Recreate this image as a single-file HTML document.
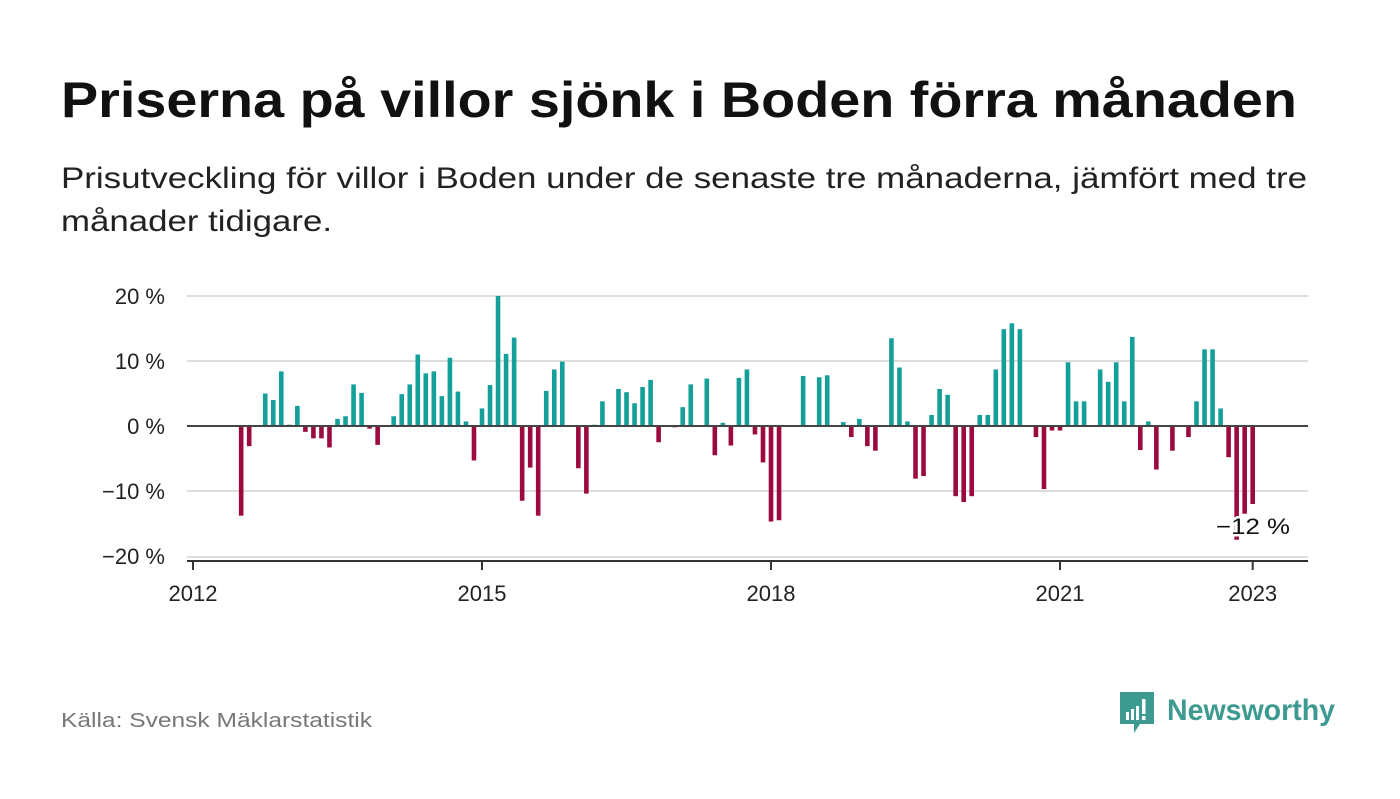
<!DOCTYPE html>
<html><head><meta charset="utf-8"><style>
body{margin:0;background:#fff;width:1400px;height:794px;overflow:hidden;font-family:"Liberation Sans","DejaVu Sans",sans-serif}
</style></head><body>
<svg width="1400" height="794" viewBox="0 0 1400 794">
<text x="61" y="117" font-size="50" font-weight="bold" fill="#111" textLength="1236" lengthAdjust="spacingAndGlyphs">Priserna på villor sjönk i Boden förra månaden</text>
<text x="61" y="188" font-size="30" fill="#222" textLength="1246" lengthAdjust="spacingAndGlyphs">Prisutveckling för villor i Boden under de senaste tre månaderna, jämfört med tre</text>
<text x="61" y="231" font-size="30" fill="#222" textLength="271" lengthAdjust="spacingAndGlyphs">månader tidigare.</text>
<g id="grid"></g>
<g id="yt"></g>
<g id="bars"></g>
<line x1="187" x2="1308" y1="426" y2="426" stroke="#444" stroke-width="2"/>
<line x1="187" x2="1308" y1="561" y2="561" stroke="#333" stroke-width="2"/>
<g id="xt"></g>
<text x="1253" y="534" font-size="22" fill="#111" text-anchor="middle" textLength="74" lengthAdjust="spacingAndGlyphs" stroke="#fff" stroke-width="5" paint-order="stroke">−12 %</text>
<text x="61" y="727" font-size="20" fill="#777" textLength="311" lengthAdjust="spacingAndGlyphs">Källa: Svensk Mäklarstatistik</text>
<g>
<path d="M1120 692h34v32h-14l-6 9v-9h-14z" fill="#3d9a90"/>
<rect x="1126" y="712" width="3" height="8" fill="#fff"/><rect x="1131" y="709" width="3" height="11" fill="#fff"/><rect x="1136" y="706" width="3" height="14" fill="#fff"/><rect x="1142" y="699" width="3.5" height="15" fill="#fff"/><rect x="1142" y="716" width="3.5" height="4" fill="#fff"/>
<text x="1167" y="720" font-size="30" font-weight="bold" fill="#3d9a90" textLength="168" lengthAdjust="spacingAndGlyphs">Newsworthy</text>
</g>
</svg>
<script>
const yTicks=[20,10,0,-10,-20];
const yTickLabels=["20 %","10 %","0 %","−10 %","−20 %"];
const xTickYears=[2012,2015,2018,2021,2023];
const startYear=2012, startMonth=6; // first bar = July 2012
const values=[-13.8,-3.1,0,5.0,4.0,8.4,0.2,3.1,-0.9,-1.9,-1.9,-3.3,1.1,1.5,6.4,5.1,-0.4,-2.9,0,1.5,4.9,6.4,11.0,8.1,8.4,4.6,10.5,5.3,0.7,-5.3,2.7,6.3,20.0,11.1,13.6,-11.5,-6.4,-13.8,5.4,8.7,9.9,0,-6.5,-10.4,0.2,3.8,0,5.7,5.2,3.5,6.0,7.1,-2.5,0,-0.2,2.9,6.4,0,7.3,-4.5,0.5,-3.0,7.4,8.7,-1.3,-5.6,-14.7,-14.5,0,0,7.7,0,7.5,7.8,0,0.6,-1.7,1.1,-3.1,-3.8,0,13.5,9.0,0.7,-8.1,-7.7,1.7,5.7,4.8,-10.8,-11.7,-10.8,1.7,1.7,8.7,14.9,15.8,14.9,0,-1.7,-9.7,-0.7,-0.7,9.8,3.8,3.8,0,8.7,6.8,9.8,3.8,13.7,-3.7,0.7,-6.7,0,-3.8,0,-1.7,3.8,11.8,11.8,2.7,-4.8,-17.5,-13.5,-12];
const NS="http://www.w3.org/2000/svg";
const y=v=>426-v*6.5;
const xm=m=>193+m*8.028; // months since Jan 2012
function mk(t,a,p){const e=document.createElementNS(NS,t);for(const k in a)e.setAttribute(k,a[k]);p.appendChild(e);return e;}
const grid=document.getElementById('grid'),yt=document.getElementById('yt'),bars=document.getElementById('bars'),xt=document.getElementById('xt');
yTicks.forEach((v,i)=>{
 const l=mk('line',{x1:187,x2:1308,y1:y(v)+(v==-20?1:0),y2:y(v)+(v==-20?1:0),stroke:'#ddd','stroke-width':2},grid);
 
 
 const t=mk('text',{x:165,y:y(v)+8,'font-size':22,fill:'#222','text-anchor':'end'},yt);
 t.textContent=yTickLabels[i];
 
 
});
values.forEach((v,i)=>{
 const cx=xm(startMonth+i);
 const r=mk('rect',{x:cx-2.3,width:4.6,y:Math.min(y(v),426),height:Math.abs(y(v)-426),fill:v>=0?'#14a09a':'#9c0a3f'},bars);
 
 
});
xTickYears.forEach(yr=>{
 const cx=xm((yr-startYear)*12);
 const l=mk('line',{x1:cx,x2:cx,y1:561,y2:570,stroke:'#333','stroke-width':2},xt);
 
 
 const t=mk('text',{x:cx,y:601,'font-size':22,fill:'#222','text-anchor':'middle'},xt);
 t.textContent=yr;
 
 
});
</script>
</body></html>
